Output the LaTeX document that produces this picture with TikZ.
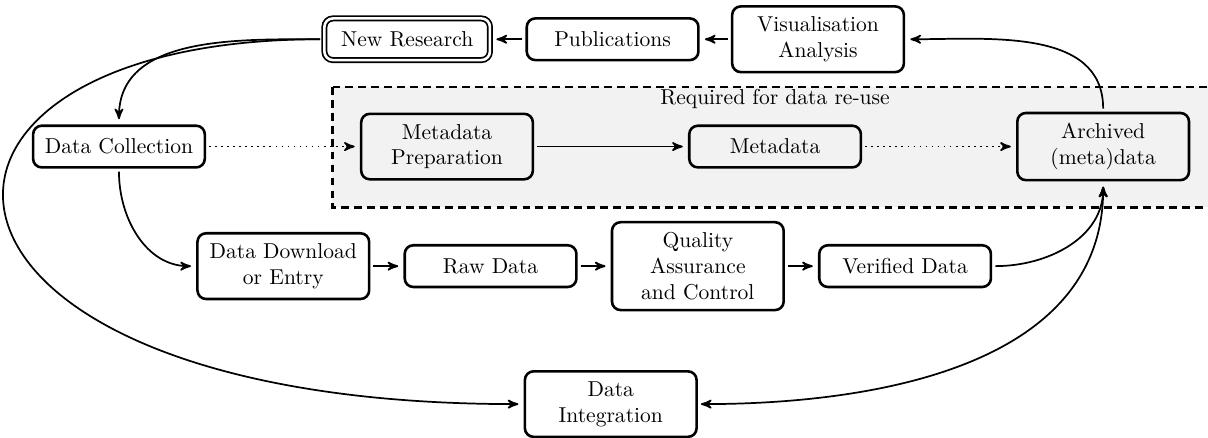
\documentclass[tikz,border=0pt]{standalone}
\usepackage[usenames, svgnames, dvipsnames]{xcolor}
\usetikzlibrary{arrows,positioning}

\begin{document}
\begin{tikzpicture}[->,>=stealth',shorten >=1pt,thick,node distance=5.35cm,
		box/.style={draw,very thick,rounded corners=4pt,align=center,
			minimum width=2.8cm,minimum height=0.68cm,inner ysep=4.75pt,outer sep=2pt}]
	\useasboundingbox (0,0) rectangle (19.7,-7.13);

	% shaded area: what is needed for re-use
	\draw[-,very thick,dash pattern=on 3.6pt off 2.4pt,fill=gray!10] (5.42,-1.42) rectangle (20.5,-3.38);

	% middle row
	\node[box]         (collect) at (1.94,-2.39) {Data Collection};
	\node[box]         (prep) [right of=collect] {Metadata\\Preparation};
	\node[box]         (meta) [right of=prep] {Metadata};
	\node[box]         (archive) [right of=meta] {Archived\\(meta)data};
	\node[node distance=0.78cm] (reuse) [above of=meta] {Required for data re-use};

	% top row
	\node[box,thick,double,double distance=1.2pt,minimum width=2.7cm] (newres) at (6.64,-0.64) {New Research};
	\node[box,node distance=3.35cm] (pub) [right of=newres] {Publications};
	\node[box,node distance=3.35cm] (vis) [right of=pub] {Visualisation\\Analysis};

	% bottom rows
	\node[box]         (download) at (4.62,-4.34) {Data Download\\or Entry};
	\node[box,node distance=3.38cm] (raw) [right of=download] {Raw Data};
	\node[box,node distance=3.38cm] (qa) [right of=raw] {Quality\\Assurance\\and Control};
	\node[box,node distance=3.38cm] (verified) [right of=qa] {Verified Data};
	\node[box]         (integ) at (9.96,-6.59) {Data\\Integration};

	\path (pub) edge (newres)
		(vis) edge (pub)
		(collect) edge [dotted] (prep)
		(prep) edge (meta)
		(meta) edge [dotted] (archive)
		(download) edge (raw)
		(raw) edge (qa)
		(qa) edge (verified)
		(newres.west) edge [out=180,in=90] (collect.north)
		(collect.south) edge [out=-90,in=180] (download.west)
		(verified.east) edge [out=0,in=-90] (archive.south)
		(integ.east) edge [<->,out=0,in=-90] (archive.south)
		(archive.north) edge [out=90,in=0] (vis.east);

	% long way round to the integration step
	\draw (newres.west) .. controls +(180:7.5) and +(180:10.45) .. (integ.west);
\end{tikzpicture}
\end{document}
